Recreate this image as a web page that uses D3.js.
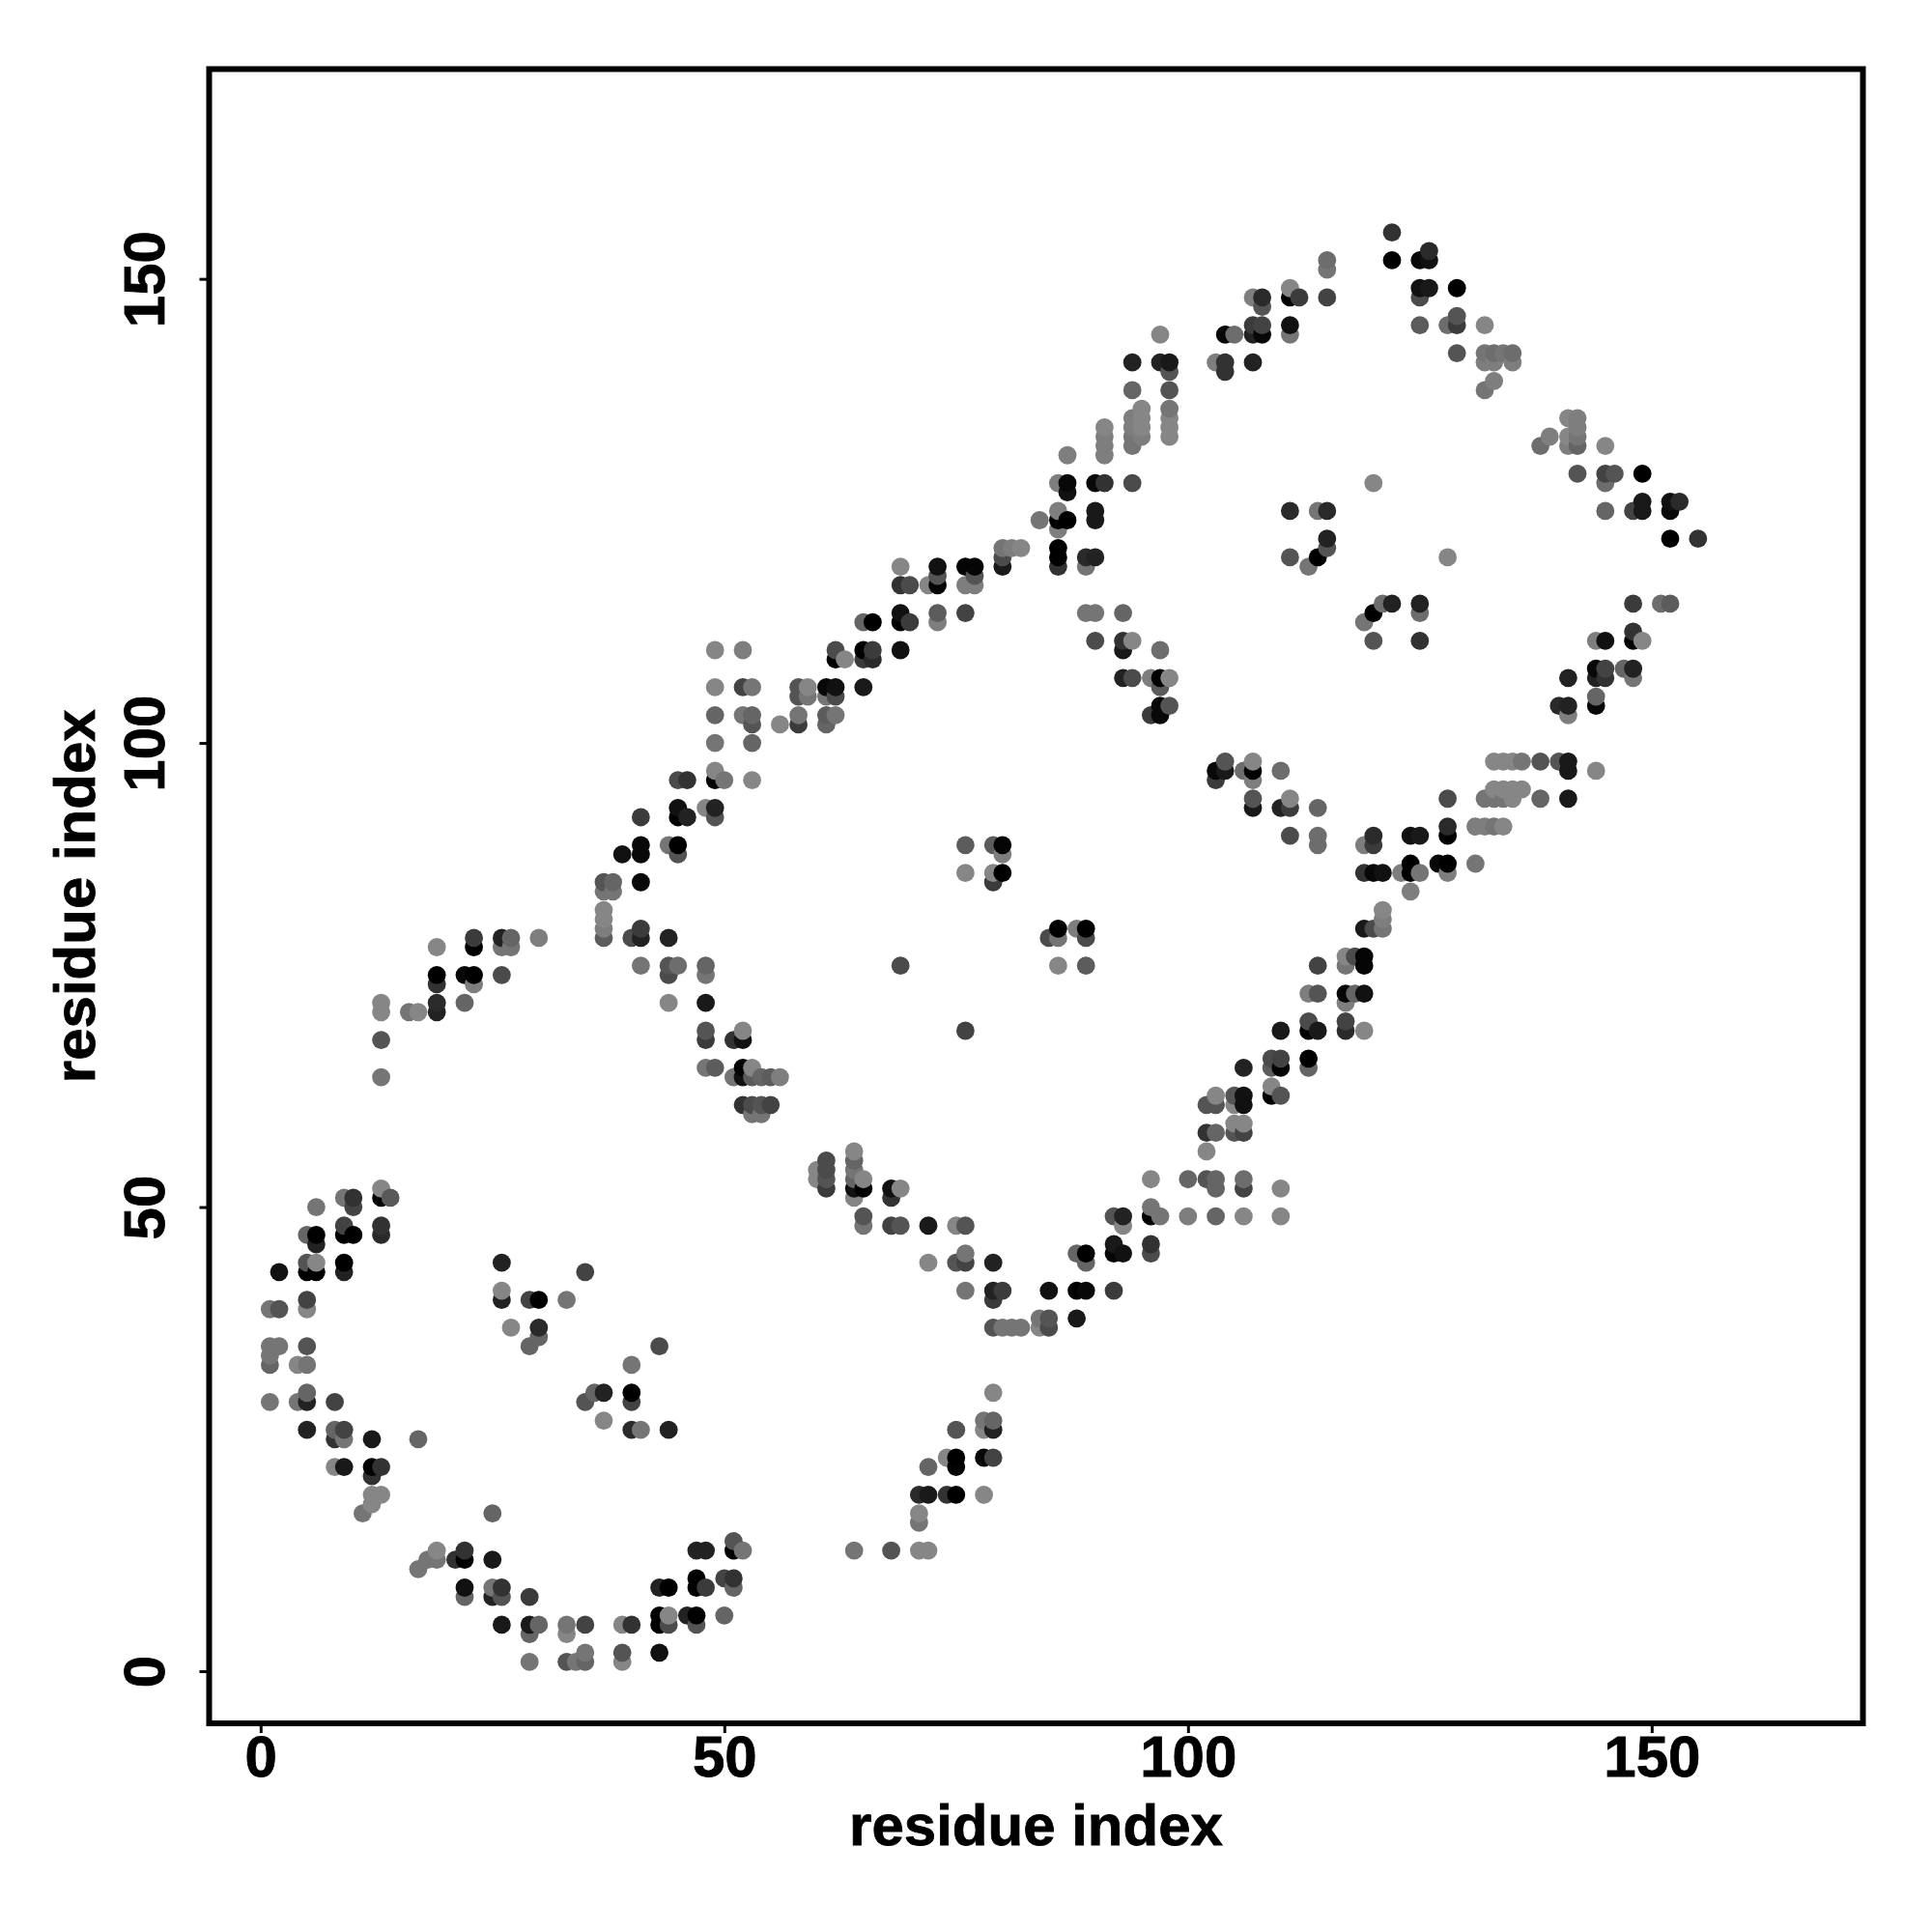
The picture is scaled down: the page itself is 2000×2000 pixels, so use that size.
<!DOCTYPE html>
<html><head><meta charset="utf-8">
<script src="https://cdn.jsdelivr.net/npm/d3@7"></script>
<style>html,body{margin:0;padding:0;background:#fff}svg{display:block}</style>
</head><body><svg id="c" width="2000" height="2000"></svg>
<script>
// each contact: [residue x, residue y, grey level 0..128]
const contactsHelix1 = [
[13,52,128],[13,51,0],[14,51,85],[6,50,112],[9,51,112],[10,51,48],[10,50,64],[9,48,64],[13,48,48],[13,47,40],
[5,47,96],[6,47,0],[6,46,32],[9,47,0],[10,47,0],[2,43,16],[5,44,80],[6,44,128],[5,43,0],[6,43,0],[9,44,0],[9,43,32],
[1,39,112],[2,39,80],[5,40,64],[5,39,128],[1,35,112],[2,35,112],[5,35,80],[1,34,112],[1,33,96],[4,33,128],[5,33,112],
[1,29,112],[4,29,112],[5,29,32],[5,30,96],[8,29,64],[5,26,32],[8,26,96],[9,26,64],[8,25,48],[9,25,112],[12,25,24],[17,25,96],
[8,22,128],[9,22,24],[12,22,0],[13,22,48],[12,21,48],[12,19,128],[13,19,128],[12,18,128],[11,17,112],[25,17,96],
[19,13,128],[22,13,48],[18,12,112],[19,12,112],[17,11,112],[21,12,48],[22,12,0],[25,12,24]
];
const contactsHelix2 = [
[22,9,16],[22,8,96],[25,9,112],[26,9,48],[25,8,32],[26,8,80],[29,8,56],[26,5,24],[29,5,24],[30,5,96],[29,4,96],
[33,5,112],[33,4,128],[35,5,64],[29,1,112],[33,1,80],[34,1,112],[35,1,96],[35,2,112],[39,5,128],[40,5,48],[39,2,80],[39,1,128],[43,2,16],
[43,6,0],[44,6,128],[43,5,0],[44,5,72],[46,6,32],[47,6,0],[47,5,80],[50,6,96],[43,9,32],[44,9,0],[47,10,0],[47,9,0],[48,9,56],
[50,10,64],[51,10,48],[51,9,96],[47,13,32],[48,13,32],[51,13,0],[51,14,80],[52,13,112]
];
const contactsLoop1 = [
[26,44,32],[35,43,64],[26,41,128],[26,40,32],[29,40,64],[30,40,0],[33,40,112],[27,37,128],[30,37,40],[30,36,96],[29,35,96],
[43,35,72],[40,33,112],[36,30,96],[37,30,32],[40,30,0],[35,29,80],[40,29,64],[37,27,128],[40,26,40],[41,26,112],[44,26,32]
];
const contactsStrandA = [
[61,55,72],[60,54,128],[61,54,72],[60,53,128],[61,53,80],[61,52,56],[64,56,128],[64,55,96],[64,54,112],[64,53,96],[64,52,16],[65,53,128],[65,52,0],[64,51,128],
[68,52,16],[69,52,128],[68,51,48],[65,49,80],[65,48,112],[68,48,64],[69,48,80],[72,48,24],[75,48,128],[76,48,80],
[72,44,128],[75,44,80],[76,45,112],[76,44,64],[79,44,32],[76,41,112],[79,41,32],[80,41,56],[79,40,56],[85,41,16],[88,41,0],[89,41,8],[92,41,56],
[79,37,80],[80,37,112],[81,37,112],[82,37,112],[84,38,112],[85,38,80],[84,37,128],[85,37,72],[88,38,24],
[88,45,96],[89,45,0],[89,44,96],[92,46,24],[92,45,5],[93,45,16],[96,46,48],[96,45,72],
[92,49,80],[93,49,32],[93,48,128],[96,50,112],[96,49,0],[97,49,112],[100,49,120],[103,49,96],[106,49,128],[110,49,128],
[96,53,128],[100,53,96],[102,53,80],[103,53,96],[103,52,96],[106,53,104],[106,52,64],[110,52,128],
[102,56,128],[102,58,48],[103,58,96],[105,58,80],[106,58,64],[105,59,128],[106,59,128]
];
const contactsStrandB = [
[79,30,128],[78,27,112],[79,27,96],[78,26,128],[79,26,32],[75,26,80],[74,23,128],[75,23,0],[75,22,5],[72,22,96],[78,23,8],[79,23,64],
[71,19,40],[72,19,24],[74,19,48],[75,19,0],[78,19,128],[71,17,128],[71,16,112],[64,13,112],[68,13,80],[71,13,128],[72,13,128]
];
const contactsHelix3 = [
[13,72,128],[13,71,128],[13,68,80],[13,64,112],[16,71,112],[17,71,128],[19,72,40],[19,71,32],[22,72,96],[19,78,128],[19,75,0],[19,74,48],
[23,79,56],[23,78,0],[26,79,32],[27,79,96],[26,78,112],[27,78,112],[30,79,120],[22,75,8],[23,75,0],[23,74,120],[26,75,72],
[37,85,80],[38,85,96],[37,84,112],[38,84,112],[37,82,128],[37,81,128],[37,80,120],[37,79,88],[40,79,72],[41,79,32],[41,80,56],[44,79,32],
[41,85,8],[39,88,16],[41,89,8],[41,88,8],[41,92,56],[45,93,16],[45,92,0],[46,92,32],[48,93,128],[49,93,32],[49,92,80],[44,89,112],[45,89,0],[45,88,80],
[45,96,72],[46,96,48],[49,97,128],[49,96,0],[50,96,112],[53,96,128],[49,100,112],[53,100,96],[49,103,96],[52,103,112],[53,103,96],[53,102,80]
];
const contactsHelix4 = [
[56,102,128],[58,103,112],[58,102,56],[61,103,88],[61,102,96],[62,103,112],[49,106,128],[52,106,64],[53,106,112],[49,110,128],[52,110,120],
[58,106,80],[59,106,128],[58,105,80],[59,105,112],[61,106,8],[62,106,16],[61,105,112],[62,105,72],[65,106,24],
[62,110,72],[62,109,0],[63,109,128],[65,110,0],[66,110,56],[65,109,56],[66,109,40],[69,110,16],
[65,113,96],[66,113,0],[69,114,16],[69,113,0],[70,113,56],[73,114,88],[73,113,120],[76,114,64],
[69,119,128],[69,117,48],[70,117,72],[72,117,128],[73,119,16],[73,118,80],[73,117,5],[76,119,5],[77,119,5],[77,118,80],[76,117,120],[77,117,120],
[80,120,72],[80,119,24],[80,121,112],[81,121,120],[82,121,128],[84,124,112],[86,125,120],[86,124,0],[87,124,0],[86,123,120],[90,125,24],[90,124,24],
[86,121,0],[86,120,0],[86,119,48],[89,120,40],[90,120,32],[89,119,112],[86,128,120],[87,128,8],[87,127,16],[90,128,8],[91,128,48],[94,128,72]
];
const contactsLoop2 = [
[69,76,72],[41,76,112],[44,76,80],[45,76,104],[44,75,72],[48,76,96],[48,75,112],[44,72,128],[48,72,24],[48,69,80],[48,68,56],[51,68,48],[52,68,16],[52,69,128],
[48,65,112],[49,65,88],[51,64,112],[52,65,5],[52,64,16],[53,65,128],[53,64,88],[54,64,96],[55,64,88],[56,64,120],
[52,61,48],[53,61,72],[54,61,80],[55,61,64],[53,60,112],[54,60,112],
[76,89,88],[79,89,88],[80,89,5],[80,88,120],[76,86,128],[79,86,128],[80,86,0],[79,85,56],
[85,79,72],[86,80,0],[86,79,112],[89,79,72],[88,80,120],[89,80,0],[86,76,128],[89,76,88],[76,69,64]
];
const contactsLoop3 = [
[89,114,112],[90,114,112],[93,114,96],[90,111,72],[93,111,48],[93,110,24],[94,111,128],[97,110,104],[93,107,32],[94,107,72],[96,107,120],[97,107,0],[98,107,128],[97,106,88],
[97,104,8],[98,104,80],[96,103,56],[97,103,8],[103,97,8],[103,96,56],[104,98,80],[104,97,24],[106,97,104],[107,98,128],[107,97,0],[107,96,120],[110,97,104],
[107,94,80],[107,93,24],[110,93,32],[111,94,128],[111,93,56],[114,93,96],[111,90,72],[114,90,104],[114,89,104],
[119,89,120],[120,90,40],[120,89,56],[124,90,16],[125,90,24],[128,91,40],[128,90,0],[128,94,72],
[119,86,48],[120,86,8],[121,86,16],[123,86,120],[124,87,0],[124,86,0],[125,86,112],[127,87,8],[128,87,0],[128,86,120],[131,87,112],[124,84,120]
];
const contactsStrandC = [
[119,80,24],[120,80,72],[121,80,112],[121,82,128],[121,81,120],[117,77,128],[118,77,72],[119,77,5],[119,76,5],[117,76,112],[114,76,64],
[113,73,120],[114,73,80],[117,73,5],[118,73,96],[119,73,16],[117,72,120],[113,70,72],[113,69,0],[114,69,24],[110,69,24],[117,70,64],[117,69,40],[119,69,128],
[106,65,32],[109,66,72],[110,66,64],[109,65,88],[110,65,5],[113,66,0],[113,65,96],[102,61,80],[103,62,128],[103,61,80],[105,62,80],[105,61,128],[106,62,16],[106,61,16],[109,63,128],[109,62,0],[110,62,80]
];
const contactsTop = [
[122,155,48],[122,152,0],[126,153,40],[125,152,8],[126,152,16],[125,149,16],[126,149,24],[129,149,0],[125,148,72],[125,145,88],[128,145,104],[129,146,80],[129,145,56],[132,145,128],[129,142,80],
[132,142,112],[133,142,104],[134,142,112],[135,142,104],[132,141,120],[133,141,120],[135,141,120],[133,139,120],[132,138,112],
[115,152,104],[115,151,112],[115,148,64],[111,149,128],[111,148,0],[112,148,56],[107,148,120],[108,148,40],[108,147,80],[111,145,16],[111,144,112],
[107,145,56],[108,145,64],[107,144,32],[108,144,8],[104,144,8],[105,144,104],[103,141,120],[104,141,48],[104,140,48],[107,141,32],
[97,144,128],[94,141,32],[97,141,32],[98,141,24],[98,140,80],[94,138,96],[98,138,80],[98,136,112],[98,135,128],[98,134,128],[98,133,128],
[95,136,128],[95,135,128],[95,134,128],[95,133,120],[94,135,120],[94,134,120],[94,133,112],[94,132,112],[91,134,128],[91,133,120],[91,132,120],[91,131,120],[87,131,120]
];
const contactsInner = [
[111,125,40],[114,125,112],[115,125,40],[115,122,32],[115,121,80],[114,120,0],[111,120,80],[113,119,112],[120,128,128],[128,120,128],
[119,113,112],[120,114,0],[121,115,104],[122,115,32],[125,115,32],[125,114,104],[120,111,80],[125,111,48]
];
const contactsRight = [
[141,135,128],[142,135,120],[142,134,120],[142,133,112],[141,133,128],[141,132,120],[142,132,96],[139,133,120],[138,132,104],[145,132,128],
[142,129,80],[145,129,64],[146,129,80],[145,128,104],[149,129,0],[145,125,96],[148,125,64],[149,126,24],[149,125,24],[152,126,16],[153,126,40],[152,125,8],[152,122,0],[155,122,48],
[148,115,56],[151,115,104],[152,115,88],[148,112,48],[148,111,0],[149,111,128],[144,111,120],[145,111,16],[144,108,8],[145,108,64],[144,107,32],[145,107,48],[147,108,96],[148,108,32],[148,107,112],
[141,107,32],[140,104,40],[141,104,32],[141,103,120],[144,105,96],[144,104,8],
[133,98,128],[134,98,128],[135,98,128],[136,98,112],[138,98,80],[140,98,80],[141,98,24],[141,97,24],[144,97,128],
[133,95,128],[134,95,128],[135,95,128],[136,95,128],[132,94,112],[133,94,112],[134,94,112],[135,94,128],[138,94,96],[141,94,24],
[131,91,120],[132,91,120],[133,91,112],[134,91,128]
];
const xTicks = [0, 50, 100, 150];
const yTicks = [0, 50, 100, 150];
const axisTitle = "residue index";

const contacts = [contactsHelix1, contactsHelix2, contactsLoop1, contactsStrandA, contactsStrandB, contactsHelix3, contactsHelix4, contactsLoop2, contactsLoop3, contactsStrandC, contactsTop, contactsInner, contactsRight].flat();

const left = 216.5, right = 1928.5, top_ = 71.5, bottom = 1784;
const x = d3.scaleLinear().domain([-5.55, 172.78]).range([left, right]);
const y = d3.scaleLinear().domain([-5.62, 172.6]).range([bottom, top_]);
const grey = d3.scaleLinear().domain([0, 128]).range([0, 134]);
const font = '"Liberation Sans", Arimo, Helvetica, Arial, sans-serif';

const svg = d3.select("#c");
svg.append("rect").attr("width", 2000).attr("height", 2000).attr("fill", "#fff");

const sorted = contacts.slice().sort((a, b) => d3.ascending(a[0], b[0]) || d3.ascending(a[1], b[1]));
svg.append("g").selectAll("circle").data(sorted).join("circle")
  .attr("cx", d => x(d[0])).attr("cy", d => y(d[1])).attr("r", 9.4)
  .attr("fill", d => { const g = Math.round(grey(d[2])); return d3.rgb(g, g, g).formatHex(); });

svg.append("rect").attr("x", left).attr("y", top_).attr("width", right - left).attr("height", bottom - top_)
  .attr("fill", "none").attr("stroke", "#000").attr("stroke-width", 6);

const gx = svg.append("g").attr("transform", `translate(0,${bottom})`)
  .call(d3.axisBottom(x).tickValues(xTicks).tickSize(10).tickPadding(8).tickFormat(d3.format("d")));
const gy = svg.append("g").attr("transform", `translate(${left},0)`)
  .call(d3.axisLeft(y).tickValues(yTicks).tickSize(10).tickFormat(d3.format("d")));
[gx, gy].forEach(g => { g.select(".domain").remove(); g.selectAll("line").attr("stroke", "#000").attr("stroke-width", 3); });

function boldText(sel) {
  return sel.attr("font-family", font).attr("font-weight", "bold").attr("font-size", 60)
    .attr("fill", "#000").attr("stroke", "#000").attr("stroke-width", 0.8);
}
boldText(gx.selectAll("text")).attr("dy", null).attr("y", 1839 - bottom).attr("text-anchor", "middle");
boldText(gy.selectAll("text")).attr("dy", null).attr("x", null).attr("y", null).attr("text-anchor", "middle")
  .attr("transform", `translate(${170 - left},0) rotate(-90)`);

boldText(svg.append("text")).attr("x", (left + right) / 2).attr("y", 1910).attr("text-anchor", "middle").text(axisTitle);
boldText(svg.append("text")).attr("transform", `translate(98,${(top_ + bottom) / 2}) rotate(-90)`).attr("text-anchor", "middle").text(axisTitle);
</script></body></html>
